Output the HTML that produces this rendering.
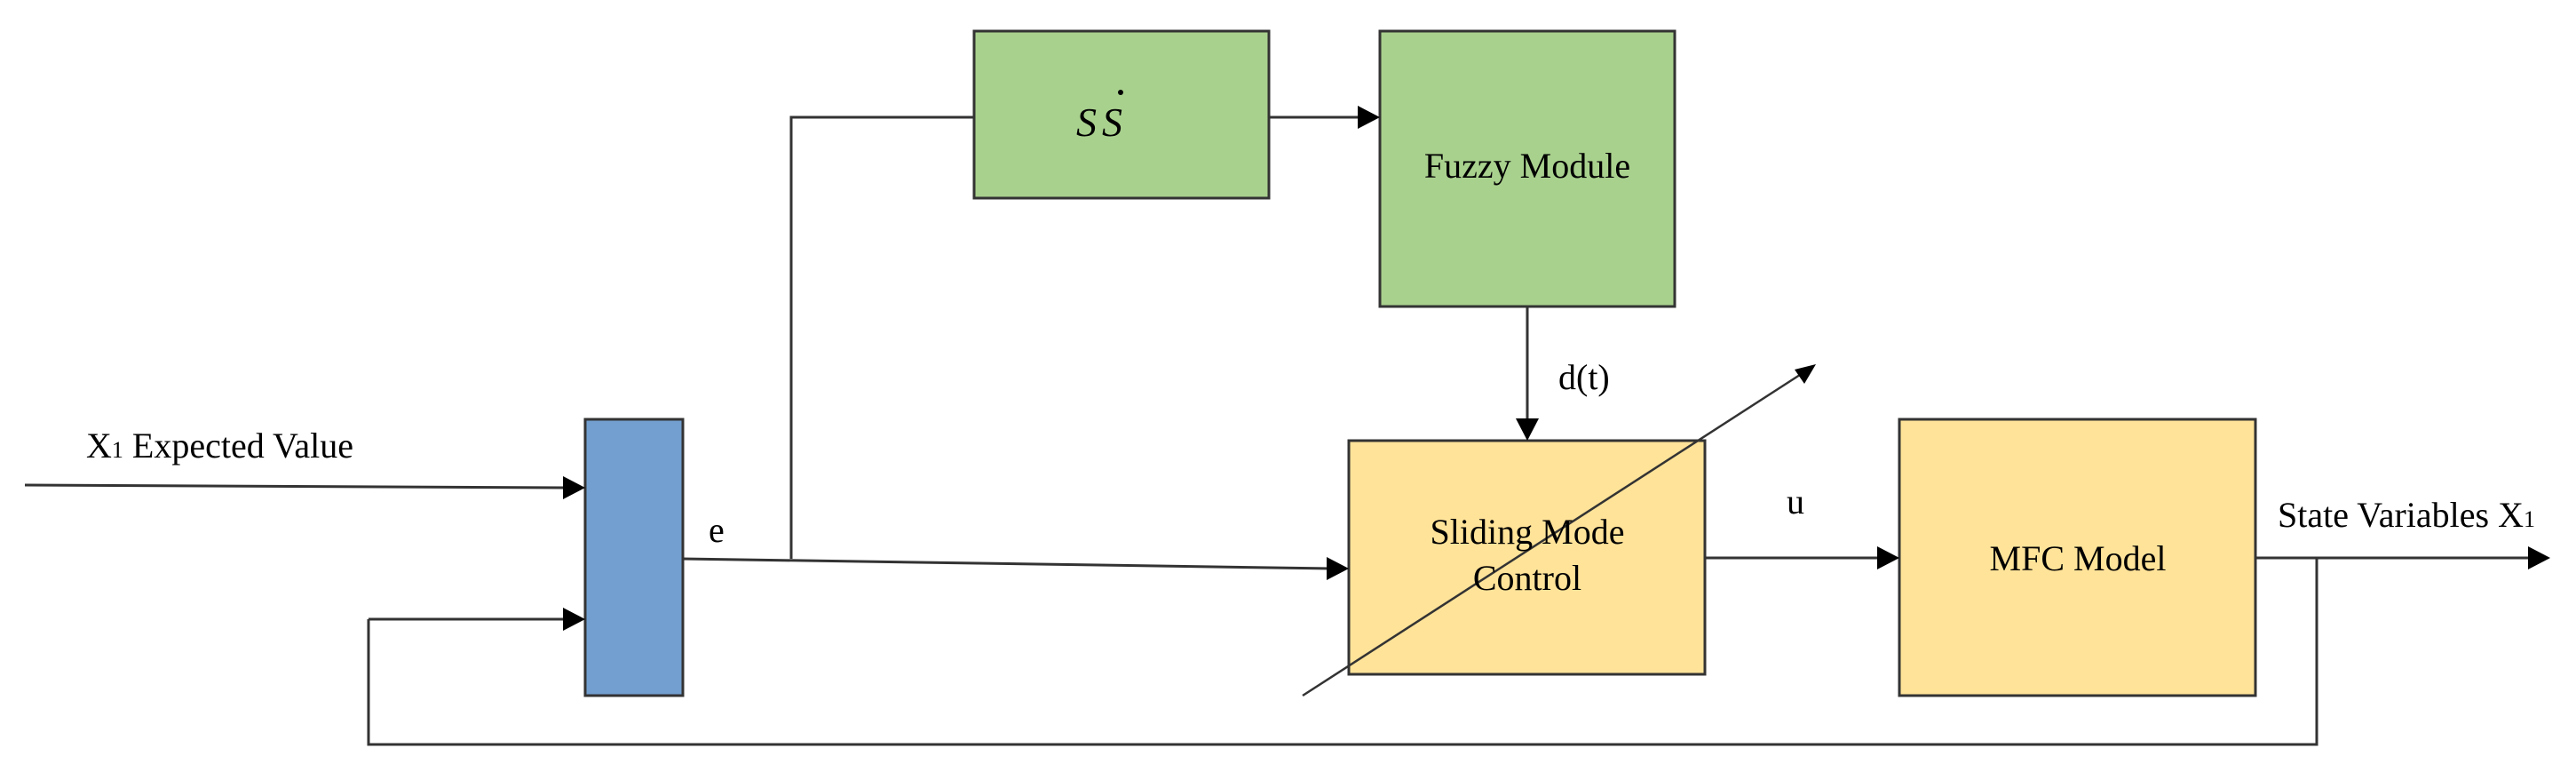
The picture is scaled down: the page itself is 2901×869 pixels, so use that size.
<!DOCTYPE html>
<html><head><meta charset="utf-8"><style>html,body{margin:0;padding:0;background:#fff}svg{display:block}</style></head>
<body>
<svg width="2901" height="869" viewBox="0 0 2901 869" xmlns="http://www.w3.org/2000/svg" font-family="Liberation Serif, serif">
<defs>
<marker id="a" markerWidth="10" markerHeight="10" refX="9" refY="5" orient="auto" markerUnits="userSpaceOnUse" viewBox="0 0 10 10">
</marker>
</defs>
<g stroke="#333" stroke-width="3">
<rect x="1097" y="35" width="332" height="188" fill="#a9d18e"/>
<rect x="1554" y="35" width="332" height="310" fill="#a9d18e"/>
<rect x="659" y="472" width="110" height="311" fill="#729fcf"/>
<rect x="1519" y="496" width="401" height="263" fill="#ffe399"/>
<rect x="2139" y="472" width="401" height="311" fill="#ffe399"/>
</g>
<g stroke="#333" stroke-width="3" fill="none">
<polyline points="28,546 640,549"/>
<polyline points="415,697 640,697"/>
<polyline points="415,697 415,838 2609,838 2609,628"/>
<polyline points="769,629 1500,640"/>
<polyline points="891,629 891,132 1097,132"/>
<polyline points="1429,132 1535,132"/>
<polyline points="1720,345 1720,478"/>
<polyline points="1920,628 2120,628"/>
<polyline points="2540,628 2850,628"/>
<polyline points="1467,783 2030,420" stroke-width="2.5"/>
</g>
<g fill="#000">
<polygon points="659,549 634,536 634,562"/>
<polygon points="659,697 634,684 634,710"/>
<polygon points="1519,640 1494,627 1494,653"/>
<polygon points="1554,132 1529,119 1529,145"/>
<polygon points="1720,496 1707,471 1733,471"/>
<polygon points="2139,628 2114,615 2114,641"/>
<polygon points="2872,628 2847,615 2847,641"/>
<polygon points="2045,410 2021,416 2032,432"/>
</g>
<g font-size="40" fill="#000">
<text x="97" y="515">X<tspan font-size="26">1</tspan> Expected Value</text>
<text x="798" y="610">e</text>
<text x="1755" y="438">d(t)</text>
<text x="2012" y="578">u</text>
<text x="2565" y="593">State Variables X<tspan font-size="26">1</tspan></text>
<text x="1720" y="200" text-anchor="middle">Fuzzy Module</text>
<text x="1720" y="612" text-anchor="middle">Sliding Mode</text>
<text x="1720" y="664" text-anchor="middle">Control</text>
<text x="2340" y="642" text-anchor="middle">MFC Model</text>
<text x="1212" y="153" font-style="italic" font-size="46">S<tspan dx="6">S</tspan></text>
<circle cx="1262" cy="104" r="3"/>
</g>
</svg>
</body></html>
